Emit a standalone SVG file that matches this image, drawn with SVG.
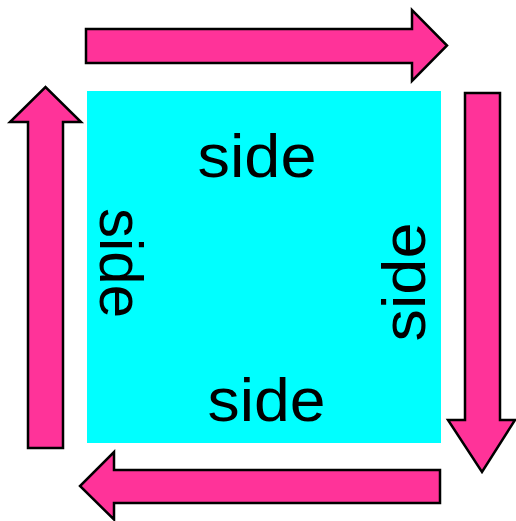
<svg xmlns="http://www.w3.org/2000/svg" width="516" height="521" viewBox="0 0 516 521">
<style>
.arrow{fill:#FF3399;stroke:#000;stroke-width:2.5;stroke-linejoin:miter}
.lbl{font-family:"Liberation Sans",Arial,sans-serif;font-size:62px;fill:#000;text-anchor:middle}
</style>
<rect width="516" height="521" fill="#fff"/>
<g id="square">
<rect x="87" y="91" width="354" height="352" fill="#00FFFF"/>
<text class="lbl" x="257" y="177" textLength="119" lengthAdjust="spacingAndGlyphs">side</text>
<text class="lbl" x="266.5" y="421" textLength="118" lengthAdjust="spacingAndGlyphs">side</text>
<text class="lbl" transform="translate(100,263) rotate(90)" textLength="110" lengthAdjust="spacingAndGlyphs">side</text>
<text class="lbl" transform="translate(425,282) rotate(-90)" textLength="119" lengthAdjust="spacingAndGlyphs">side</text>
</g>
<g id="connectors">
<polygon id="arrow-top" class="arrow" points="86,29 412,29 412,10 447,45.5 412,81 412,63 86,63"/>
<polygon id="arrow-right" class="arrow" points="465,93 500,93 500,420 515,420 482,472 448,420 465,420"/>
<polygon id="arrow-bottom" class="arrow" points="440,470 440,503 114,503 114,519.5 80,486 114,452 114,470"/>
<polygon id="arrow-left" class="arrow" points="28,448 63,448 63,122 81,122 45.5,87 10,122 28,122"/>
</g>
</svg>
